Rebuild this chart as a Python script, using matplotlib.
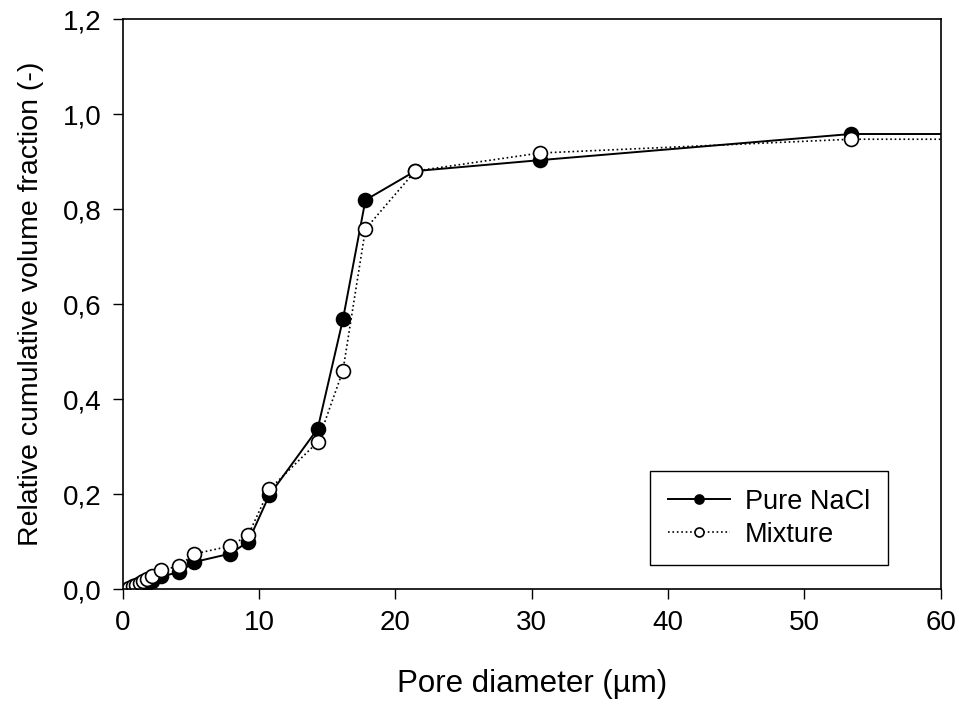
import matplotlib
matplotlib.use("Agg")
import matplotlib.pyplot as plt

plt.rcParams['font.family'] = ['Liberation Sans', 'DejaVu Sans']

# pore diameter (um), last point lies beyond the axis (plateau)
pure_x = [0.35, 0.45, 0.75, 1.0, 1.25, 1.5, 1.8, 2.16, 2.8, 4.16, 5.2, 7.9, 9.2,
          10.75, 14.3, 16.15, 17.8, 21.45, 30.6, 53.4, 100]
pure_y = [0.0, 0.001, 0.003, 0.005, 0.007, 0.010, 0.013, 0.018, 0.027, 0.036, 0.057,
          0.075, 0.100, 0.198, 0.338, 0.568, 0.819, 0.880, 0.903, 0.958, 0.958]

mix_x = [0.35, 0.45, 0.75, 1.0, 1.25, 1.5, 1.8, 2.16, 2.8, 4.16, 5.2, 7.9, 9.2,
         10.75, 14.3, 16.15, 17.8, 21.45, 30.6, 53.4, 100]
mix_y = [0.0, 0.002, 0.006, 0.009, 0.013, 0.017, 0.022, 0.028, 0.040, 0.049, 0.074,
         0.091, 0.114, 0.210, 0.310, 0.460, 0.758, 0.880, 0.918, 0.947, 0.947]

fig = plt.figure(figsize=(9.59, 7.04), dpi=100)
ax = fig.add_axes([0.128, 0.163, 0.853, 0.810])

ax.plot(pure_x, pure_y, '-', color='k', lw=1.4, marker='o', ms=10,
        mfc='k', mec='k', mew=1.2, label='Pure NaCl')
ax.plot(mix_x, mix_y, ':', color='k', lw=1.2, marker='o', ms=10,
        mfc='white', mec='k', mew=1.2, label='Mixture')

ax.set_xlim(0, 60)
ax.set_ylim(0, 1.2)
ax.set_xticks([0, 10, 20, 30, 40, 50, 60])
ax.set_yticks([0, 0.2, 0.4, 0.6, 0.8, 1.0, 1.2])
ax.set_yticklabels(['0,0', '0,2', '0,4', '0,6', '0,8', '1,0', '1,2'])
ax.tick_params(direction='out', length=7, width=1, labelsize=20, pad=8)
for s in ax.spines.values():
    s.set_linewidth(1.2)

ax.set_xlabel('Pore diameter (\u00b5m)', fontsize=22.5, labelpad=24)
ax.set_ylabel('Relative cumulative volume fraction (-)', fontsize=20.5, labelpad=14)

leg = ax.legend(loc='lower right', bbox_to_anchor=(0.935, 0.042), fontsize=19.5,
                frameon=True, fancybox=False, edgecolor='k', framealpha=1,
                markerscale=0.65, handlelength=2.3, handletextpad=0.55,
                borderpad=0.65, labelspacing=0.25, borderaxespad=0)
leg.get_frame().set_linewidth(1.0)

fig.savefig('out.png', dpi=100)
